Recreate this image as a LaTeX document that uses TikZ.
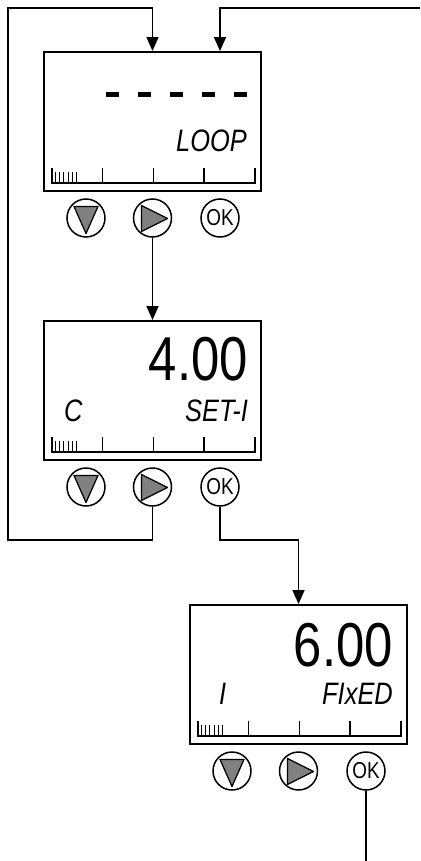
\documentclass[tikz,border=0pt]{standalone}
\usepackage{fontspec}
\newfontfamily\lcdfont[FakeStretch=0.82]{Liberation Sans}
\usetikzlibrary{arrows.meta}

\begin{document}
\begin{tikzpicture}[x=1pt, y=-1pt, >={Triangle[length=14pt,width=12pt]},
	screen/.style={draw, line width=1.9pt, minimum width=217pt, minimum height=139pt, inner sep=0pt},
	btn/.style={draw, circle, line width=1.5pt, minimum size=38pt, inner sep=0pt},
	key/.style={fill=gray, draw=black, line width=1.2pt, line join=round},
	bar/.style={line width=1.6pt},
	flow/.style={line width=1.6pt},
	big/.style={font=\lcdfont\fontsize{62}{62}\selectfont, inner sep=0pt},
	lbl/.style={font=\lcdfont\itshape\fontsize{31}{31}\selectfont, inner sep=0pt}]
	\useasboundingbox (0,0) rectangle (420,861);
	% the three displays with their keys
	\foreach \n/\px/\py in {1/44/52, 2/44/321, 3/190/605} {
		\begin{scope}[shift={(\px,\py)}]
			\node[screen] (d\n) at (108.5,69.5) {};
			\draw[bar] (8,116) -- (8,131) -- (211,131) -- (211,116);
			\foreach \x in {58.5,109.5,160} \draw[bar] (\x,116) -- (\x,131);
			\foreach \i in {0,...,5} \draw[line width=1pt] (11.7+4.1*\i,120) -- ++(0,11);
			\node[btn] (d\n dn) at (42,166) {};
			\filldraw[key] (30,154.5) -- (54,154.5) -- (42,181.5) -- cycle;
			\node[btn] (d\n rt) at (108.5,166) {};
			\filldraw[key] (97.5,153.5) -- (97.5,179.5) -- (123.5,166.5) -- cycle;
			\node[btn, font=\lcdfont\fontsize{23}{23}\selectfont] (d\n ok) at (176,166) {OK};
		\end{scope}
	}
	% display texts
	\foreach \x in {106,138,...,234} \fill (\x,92) rectangle ++(13,5.5);
	\node[lbl, anchor=base east] (d1mode) at (247,152) {LOOP};
	\node[big, anchor=base east] (d2val) at (248,380) {4.00};
	\node[lbl, anchor=base west] (d2unit) at (64,421) {C};
	\node[lbl, anchor=base east] (d2mode) at (248,421) {SET-I};
	\node[big, anchor=base east] (d3val) at (393,666) {6.00};
	\node[lbl, anchor=base west] (d3unit) at (219,704) {I};
	\node[lbl, anchor=base east] (d3mode) at (393,704) {FIxED};
	% connectors
	\coordinate (lpt) at (8,8);
	\coordinate (rin) at (420,8);
	\coordinate (out) at (366,861);
	\draw[flow, ->] (d2rt.south) -- ++(0,33) -| (lpt) -| (d1.north);
	\draw[flow, ->] (rin) -| (d1ok |- d1.north);
	\draw[flow, ->] (d1rt.south) -- (d2.north);
	\draw[flow, ->] (d2ok.south) -- ++(0,33) -| (d3.north);
	\draw[flow] (d3ok.south) -- (out);
\end{tikzpicture}
\end{document}
